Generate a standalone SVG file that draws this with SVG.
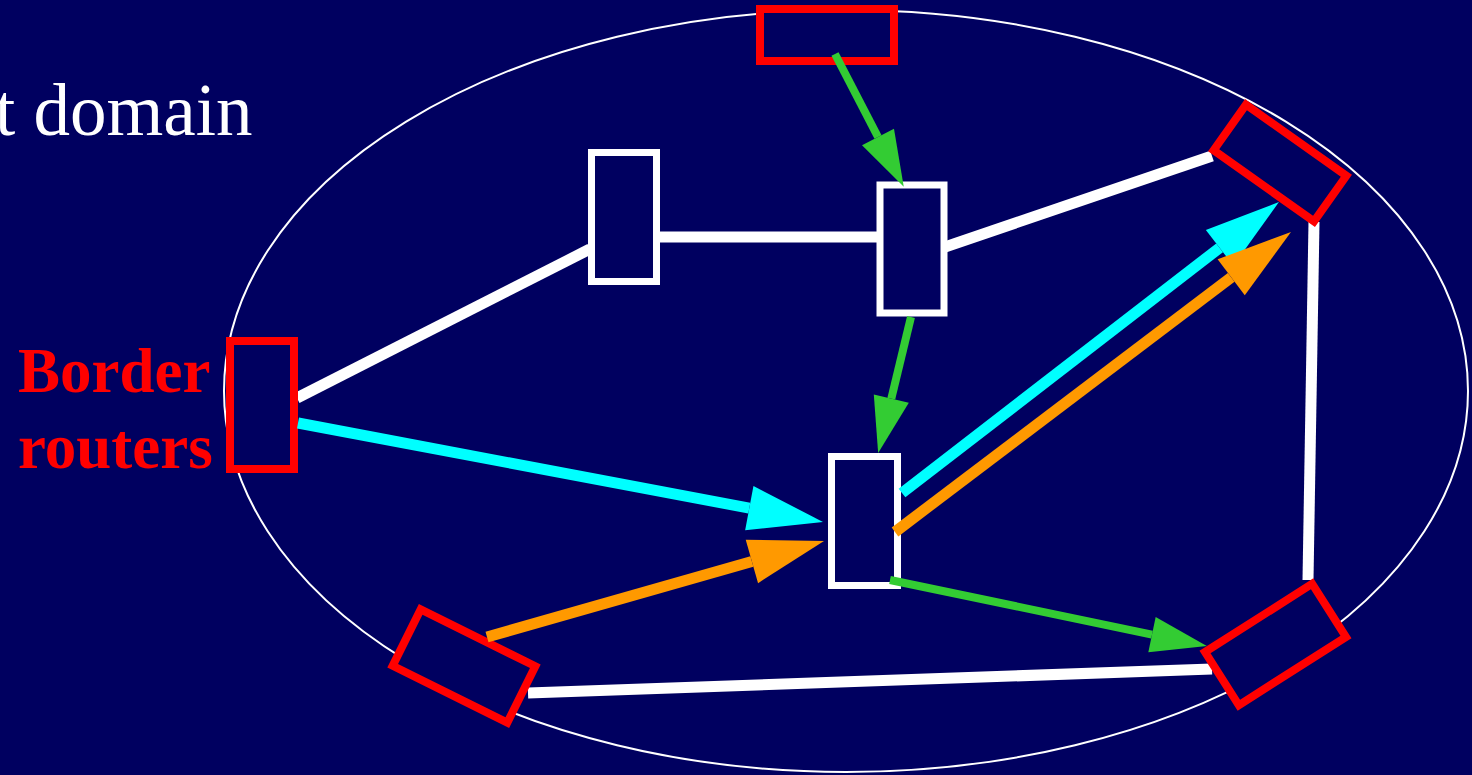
<svg xmlns="http://www.w3.org/2000/svg" width="1472" height="775" viewBox="0 0 1472 775">
  <style>
    .router { fill: #000060; stroke: #ffffff; stroke-width: 7; }
    .border { fill: #000060; stroke: #ff0000; stroke-width: 8; }
    .link { stroke: #ffffff; stroke-width: 11; fill: none; }
    .green { stroke: #33cc33; stroke-width: 8; fill: none; }
    .cyan { stroke: #00ffff; stroke-width: 11; fill: none; }
    .orange { stroke: #ff9900; stroke-width: 11; fill: none; }
  </style>
  <defs>
    <!-- arrowheads: base sits on the line end, tip points forward -->
    <marker id="headGreen" markerUnits="userSpaceOnUse" markerWidth="56" markerHeight="36" refX="0" refY="18" orient="auto" overflow="visible">
      <path d="M0,0 L56,18 L0,36 Z" fill="#33cc33"/>
    </marker>
    <marker id="headCyan" markerUnits="userSpaceOnUse" markerWidth="75" markerHeight="45" refX="0" refY="22.5" orient="auto" overflow="visible">
      <path d="M0,0 L75,22.5 L0,45 Z" fill="#00ffff"/>
    </marker>
    <marker id="headOrange" markerUnits="userSpaceOnUse" markerWidth="75" markerHeight="45" refX="0" refY="22.5" orient="auto" overflow="visible">
      <path d="M0,0 L75,22.5 L0,45 Z" fill="#ff9900"/>
    </marker>
  </defs>

  <rect width="1472" height="775" fill="#000060"/>

  <!-- domain boundary -->
  <ellipse id="domain" cx="846" cy="391" rx="622" ry="381" fill="none" stroke="#ffffff" stroke-width="2"/>

  <text x="-5" y="135" font-family="'Liberation Serif', 'Times New Roman', serif" font-size="73" fill="#ffffff">t domain</text>

  <text font-family="'Liberation Serif', 'Times New Roman', serif" font-size="63" font-weight="bold" fill="#ff0000">
    <tspan x="18" y="392">Border</tspan>
    <tspan x="18" y="468">routers</tspan>
  </text>

  <!-- white links (drawn under the nodes) -->
  <g id="links">
    <line class="link" x1="297" y1="398" x2="590" y2="249"/>
    <line class="link" x1="658" y1="237" x2="879" y2="237"/>
    <line class="link" x1="945" y1="247" x2="1212" y2="156"/>
    <line class="link" x1="1314" y1="222" x2="1308" y2="580"/>
    <line class="link" x1="528" y1="693" x2="1212" y2="669"/>
  </g>

  <!-- interior routers -->
  <g id="router-a"><rect class="router" x="591.5" y="152.5" width="65" height="129"/></g>
  <g id="router-b"><rect class="router" x="880" y="185" width="64" height="128"/></g>
  <g id="router-c"><rect class="router" x="831.5" y="456.5" width="66" height="129"/></g>

  <!-- border routers -->
  <g id="border-left"><rect class="border" x="230" y="341" width="64" height="128"/></g>
  <g id="border-top"><rect class="border" x="760" y="9" width="134" height="52"/></g>
  <g id="border-top-right"><rect class="border" x="-61.5" y="-28" width="123" height="56" transform="translate(1280 163) rotate(35.3)"/></g>
  <g id="border-bottom-right"><rect class="border" x="-63.5" y="-31.5" width="127" height="63" transform="translate(1275.5 644.5) rotate(-32.5)"/></g>
  <g id="border-bottom-left"><rect class="border" x="-64" y="-31.5" width="128" height="63" transform="translate(464 666) rotate(26.4)"/></g>

  <!-- traffic flows -->
  <g id="flows">
    <line class="green" x1="835" y1="54" x2="878" y2="137" marker-end="url(#headGreen)"/>
    <line class="green" x1="911" y1="317" x2="891.3" y2="398.6" marker-end="url(#headGreen)"/>
    <line class="green" x1="890" y1="580" x2="1152" y2="634.6" marker-end="url(#headGreen)"/>
    <line class="cyan" x1="298" y1="423" x2="749.3" y2="508.1" marker-end="url(#headCyan)"/>
    <line class="cyan" x1="902" y1="493" x2="1219.6" y2="247.8" marker-end="url(#headCyan)"/>
    <line class="orange" x1="487" y1="637" x2="751.9" y2="561.5" marker-end="url(#headOrange)"/>
    <line class="orange" x1="895" y1="532" x2="1231.2" y2="277.3" marker-end="url(#headOrange)"/>
  </g>
</svg>
